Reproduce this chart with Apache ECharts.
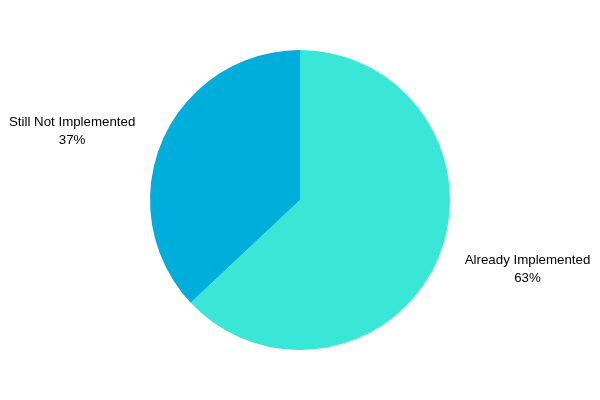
<!DOCTYPE html>
<html>
<head>
<meta charset="utf-8">
<script src="https://cdn.jsdelivr.net/npm/echarts@6/dist/echarts.min.js"></script>
<style>
  html, body { margin: 0; padding: 0; background: #fff; }
  #chart { width: 600px; height: 400px; }
</style>
</head>
<body>
<div id="chart"></div>
<script>
const categories = ["Already Implemented", "Still Not Implemented"];
const values = [63, 37];
const colors = ["#3ae6d6", "#00aedc"];

let chartDom = document.getElementById("chart");
let myChart = echarts.init(chartDom);

const data = categories.map(function (name, i) {
  return { name: name, value: values[i], itemStyle: { color: colors[i] } };
});

const option = {
  animation: false,
  series: {
    type: "pie",
    center: ["50%", "50%"],
    radius: [0, 150],
    startAngle: 90,
    clockwise: true,
    data: data,
    label: {
      show: true,
      position: "outside",
      bleedMargin: 0,
      formatter: "{a|{b}}\n{a|{d}%}",
      color: "#000",
      rich: {
        a: {
          align: "center",
          fontFamily: "Liberation Sans, Arial, sans-serif",
          fontSize: 13.3,
          lineHeight: 18,
          color: "#000",
        },
      },
    },
    labelLine: { show: false, length: 24, length2: 0 },
  },
};

option && myChart.setOption(option);
</script>
</body>
</html>
